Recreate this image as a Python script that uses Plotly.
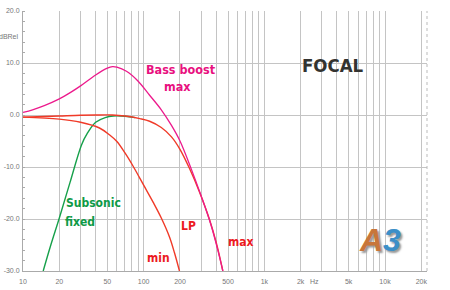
import numpy as np
import plotly.graph_objects as go

# ---- data ----
boost_freq = [10, 12, 15, 20, 25, 30, 40, 50, 55, 60, 72, 90, 112, 140, 170, 200, 250, 300, 360, 410, 453]
boost_db = [0.5, 1.0, 1.8, 3.1, 4.4, 5.6, 7.7, 9.0, 9.3, 9.2, 8.4, 6.5, 3.8, 1.0, -2.0, -5.0, -10.6, -15.6, -21.0, -25.8, -30.0]

lpmax_freq = [10, 15, 20, 30, 40, 55, 70, 93, 112, 140, 170, 200, 240, 290, 350, 400, 453]
lpmax_db = [-0.4, -0.3, -0.2, -0.05, 0.0, 0.0, -0.2, -0.7, -1.2, -2.4, -4.2, -6.6, -10.3, -14.8, -20.0, -24.6, -30.0]

lpmin_freq = [10, 20, 30, 43, 52, 60, 70, 82, 100, 120, 140, 164, 180, 198]
lpmin_db = [-0.4, -0.8, -1.4, -2.5, -3.8, -5.1, -7.3, -9.9, -13.5, -16.8, -19.8, -23.5, -26.5, -30.0]

sub_freq = [14.7, 17, 20, 24.5, 30.6, 34, 40, 48, 56, 70, 85]
sub_db = [-30.0, -25.0, -19.8, -13.0, -5.7, -3.6, -1.4, -0.5, -0.2, -0.25, -0.5]

x_labels = {10: "10", 20: "20", 50: "50", 100: "100", 200: "200", 500: "500",
            1000: "1k", 2000: "2k", 5000: "5k", 10000: "10k", 20000: "20k"}
y_ticks = [20, 10, 0, -10, -20, -30]
y_ticktext = ["20.0", "10.0", "0.0", "-10.0", "-20.0", "-30.0"]

grid_freqs = [m * 10 ** d for d in range(1, 5) for m in range(1, 10) if m * 10 ** d <= 20000]
x_ticktext = [x_labels.get(f, "") for f in grid_freqs]

MAGENTA = "#ec1a8c"
RED = "#f03a28"
GREEN = "#16a04a"
GRID = "#c4c4c4"

fig = go.Figure()
fig.add_trace(go.Scatter(x=sub_freq, y=sub_db, mode="lines", line=dict(color=GREEN, width=1.4, shape="spline")))
fig.add_trace(go.Scatter(x=lpmin_freq, y=lpmin_db, mode="lines", line=dict(color=RED, width=1.4, shape="spline")))
fig.add_trace(go.Scatter(x=lpmax_freq, y=lpmax_db, mode="lines", line=dict(color=RED, width=1.4, shape="spline")))
fig.add_trace(go.Scatter(x=boost_freq, y=boost_db, mode="lines", line=dict(color=MAGENTA, width=1.3, shape="spline")))

tickfont = dict(family="Liberation Sans, Arial, sans-serif", size=7, color="#777777")
fig.update_xaxes(type="log", range=[1, 4.348], tickvals=grid_freqs, ticktext=x_ticktext,
                 showgrid=True, gridcolor=GRID, gridwidth=1, zeroline=False, automargin=False,
                 showline=True, linecolor="#aaaaaa", linewidth=1, ticks="", ticklen=0,
                 ticklabelstandoff=4, tickfont=tickfont)
fig.update_yaxes(range=[-30, 20], tickvals=y_ticks, ticktext=y_ticktext, automargin=False,
                 showgrid=True, gridcolor=GRID, gridwidth=1, zeroline=False,
                 showline=True, linecolor="#aaaaaa", linewidth=1, ticks="", tickfont=tickfont,
                 ticklabelstandoff=1,
                 minor=dict(dtick=2, ticks="inside", ticklen=2, tickcolor="#aaaaaa", showgrid=False))

# right dotted border
fig.add_shape(type="line", xref="paper", yref="paper", x0=1, x1=1, y0=0, y1=1,
              line=dict(color="#bbbbbb", width=1, dash="dot"))

bold = "Liberation Sans Narrow, DejaVu Sans Condensed, Arial Narrow, sans-serif"

def label(x, y, text, color, size, family=bold, **kw):
    fig.add_annotation(x=np.log10(x), y=y, text="<b>%s</b>" % text, showarrow=False,
                       font=dict(family=family, size=size, color=color),
                       xanchor="center", yanchor="middle", **kw)

label(204, 8.7, "Bass boost", "#e8117f", 12.5)
label(189, 5.4, "max", "#e8117f", 12.5)
label(3700, 9.5, "FOCAL", "#333330", 18.5)
label(38.7, -16.9, "Subsonic", "#0e9a46", 12)
label(29.9, -20.5, "fixed", "#0e9a46", 12)
label(235, -21.3, "LP", "#ec1a22", 12)
label(646, -24.4, "max", "#ec1a22", 12)
label(133, -27.5, "min", "#ec1a22", 12)

fig.add_annotation(x=np.log10(2620), y=-30, yshift=-5, text="Hz", showarrow=False,
                   font=tickfont, yanchor="top")
fig.add_annotation(xref="paper", yref="paper", x=-0.004, y=0.9, text="dBRel", showarrow=False,
                   font=tickfont, xanchor="right", yanchor="middle")

# A3 logo
fig.add_annotation(x=np.log10(9100), y=-24.1,
                   text="<b><i><span style='color:#c8763a'>A</span><span style='color:#3c8fc8'>3</span></i></b>",
                   showarrow=False,
                   font=dict(family="Liberation Sans, Arial", size=32, color="#c8763a",
                             shadow="2px 2px 2px #999999"),
                   xanchor="center", yanchor="middle")

fig.update_layout(width=450, height=290, margin=dict(l=23, r=23, t=11, b=19),
                  paper_bgcolor="white", plot_bgcolor="white", showlegend=False)

fig.write_html("out.html")
